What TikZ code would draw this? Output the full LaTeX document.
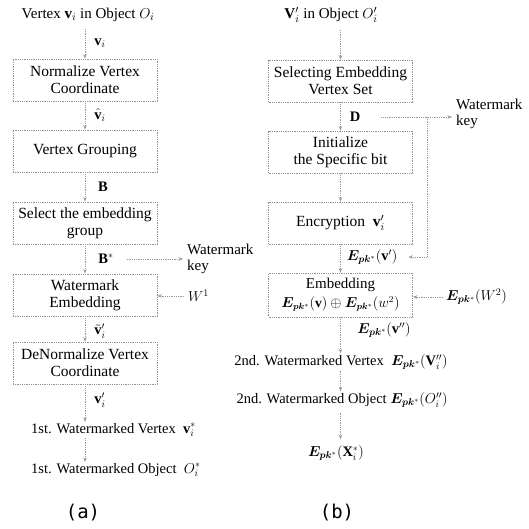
\documentclass[tikz,border=0pt]{standalone}
\usepackage{amsmath,bm}
\usepackage{fontspec}
\setmainfont{Liberation Serif}
\newfontfamily\capfont{DejaVu Sans Mono}
\usetikzlibrary{arrows.meta}
\newcommand{\Epk}{\bm{E}_{\bm{pk}^{*}}}
\begin{document}
\begin{tikzpicture}[x=1pt,y=-1pt,
 flowbox/.style={draw=gray!85, densely dotted, line width=0.8pt, minimum width=144pt, minimum height=42pt, inner sep=1pt, align=center, font=\fontsize{15.5}{17}\selectfont},
 flowarrow/.style={draw=gray!80, densely dotted, line width=0.8pt, -{Stealth[length=4.5pt,width=3.5pt]}},
 lbl/.style={inner sep=1pt, font=\fontsize{14.5}{16}\selectfont},
 keytxt/.style={inner sep=1pt, align=left, font=\fontsize{15}{15.5}\selectfont},
 ftext/.style={inner sep=1pt, font=\fontsize{14.5}{16}\selectfont},
 ttext/.style={inner sep=1pt, font=\fontsize{15}{16}\selectfont},
 captxt/.style={inner sep=1pt, font=\capfont\fontsize{19}{21}\selectfont},
]
\useasboundingbox (0,0) rectangle (529,528);

% ---------- (a) ----------
\node[ttext] (tL) at (88,15) {Vertex $\mathbf{v}_i$ in Object $O_i$};
\node[flowbox] (L1) at (85,80) {Normalize Vertex\\Coordinate};
\node[flowbox] (L2) at (85,151) {Vertex Grouping};
\node[flowbox] (L3) at (85,223) {Select the embedding\\group};
\node[flowbox] (L4) at (85,295) {Watermark\\Embedding};
\node[flowbox] (L5) at (85,363) {DeNormalize Vertex\\Coordinate};
\node[ftext, anchor=west] (L6) at (30,430) {1st. Watermarked Vertex \ $\mathbf{v}_i^{*}$};
\node[ftext, anchor=west] (L7) at (30,470) {1st. Watermarked Object \ $O_i^{*}$};
\node[captxt] (ca) at (83,513) {(a)};

\node[lbl] (lv1) at (100,43) {$\mathbf{v}_i$};
\node[lbl] (lv2) at (100,115) {$\hat{\mathbf{v}}_i$};
\node[lbl] (lB) at (103,187) {$\mathbf{B}$};
\node[lbl] (lBs) at (106,259) {$\mathbf{B}^{*}$};
\node[lbl] (lv3) at (100,331) {$\tilde{\mathbf{v}}_i'$};
\node[lbl] (lv4) at (100,400) {$\mathbf{v}_i'$};
\node[keytxt, anchor=west] (keyL) at (186,259) {Watermark\\key};
\node[lbl, anchor=west] (w1) at (187,296) {$W^{1}$};

\draw[flowarrow, shorten <=6pt] (tL.south -| L1.north) -- (L1.north);
\draw[flowarrow] (L1) -- (L2);
\draw[flowarrow] (L2) -- (L3);
\draw[flowarrow] (L3) -- (L4);
\draw[flowarrow] (L4) -- (L5);
\draw[flowarrow] (L5.south) -- (L5.south |- L6.north);
\draw[flowarrow] (L6.south -| L5.south) -- (L7.north -| L5.south);
\draw[flowarrow, shorten <=12pt, shorten >=3pt] (lBs.east) -- (lBs.east -| keyL.west);
\draw[flowarrow, shorten <=3pt] (w1.west) -- (w1.west -| L4.east);

% ---------- (b) ----------
\node[ttext] (tR) at (331,15) {$\mathbf{V}_i'$ in Object $O_i'$};
\node[flowbox] (R1) at (340.5,81) {Selecting Embedding\\Vertex Set};
\node[flowbox] (R2) at (340.5,152) {Initialize\\the Specific bit};
\node[flowbox] (R3) at (340.5,223) {Encryption \ $\mathbf{v}_i'$};
\node[flowbox, minimum height=44pt, font=\fontsize{15}{15}\selectfont] (R4) at (340.5,295) {Embedding\\[4pt]{\fontsize{13.5}{14}\selectfont$\Epk(\mathbf{v})\oplus\Epk(w^{2})$}};
\node[ftext] (R5) at (341,362) {2nd. Watermarked Vertex \ $\Epk(\mathbf{V}_i'')$};
\node[ftext] (R6) at (342,400) {2nd. Watermarked Object $\Epk(O_i'')$};
\node[lbl] (R7) at (336,453) {$\Epk(\mathbf{X}_i^{*})$};
\node[captxt] (cb) at (337,513) {(b)};

\node[lbl] (lD) at (355,117) {$\mathbf{D}$};
\node[lbl] (lEv) at (372,257) {$\Epk(\mathbf{v}')$};
\node[lbl] (lEvv) at (384,330) {$\Epk(\mathbf{v}'')$};
\node[keytxt, anchor=west] (keyR) at (455,114) {Watermark\\key};
\node[lbl, anchor=west] (eW2) at (445,297) {$\Epk(W^{2})$};
\coordinate (br) at (427,117);

\draw[flowarrow, shorten <=6pt] (tR.south -| R1.north) -- (R1.north);
\draw[flowarrow] (R1) -- (R2);
\draw[flowarrow] (R2) -- (R3);
\draw[flowarrow] (R3) -- (R4);
\draw[flowarrow] (R4.south) -- (R4.south |- R5.north);
\draw[flowarrow] (R5.south -| R4.south) -- (R6.north -| R4.south);
\draw[flowarrow, shorten <=4pt, shorten >=5pt] (R6.south -| R4.south) -- (R7.north -| R4.south);
\draw[flowarrow, shorten <=20pt, shorten >=3pt] (lD.east) -- (lD.east -| keyR.west);
\draw[flowarrow, shorten >=10pt] (br) |- (lEv.east);
\draw[flowarrow, shorten <=2pt] (eW2.west) -- (eW2.west -| R4.east);
\end{tikzpicture}
\end{document}
